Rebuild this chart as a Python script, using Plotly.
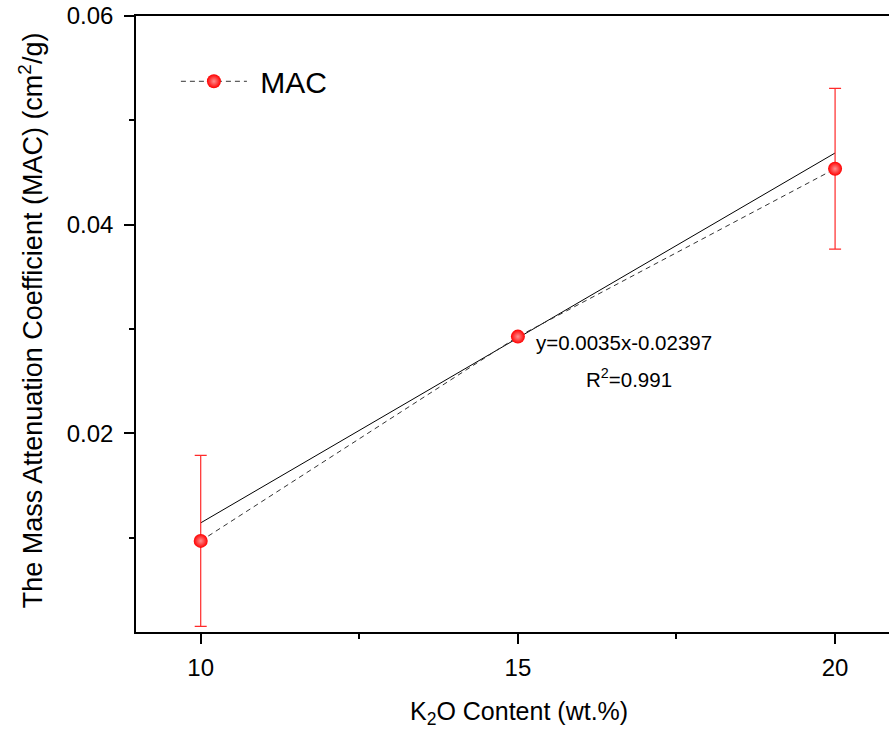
import plotly.graph_objects as go

# Data
k2o = [10, 15, 20]
mac = [0.00969, 0.02927, 0.04536]
mac_err = [0.0082, 0.0, 0.0077]
fit_x = [10, 20]
fit_y = [0.01142, 0.04687]
x_ticks = [10, 15, 20]
y_ticks = [0.02, 0.04, 0.06]
y_tick_labels = ["0.02", "0.04", "0.06"]

FONT = "Liberation Sans, Arial, sans-serif"

fig = go.Figure()

fig.add_trace(go.Scatter(
    x=fit_x, y=fit_y, mode="lines",
    line=dict(color="black", width=1), showlegend=False, hoverinfo="skip"))

fig.add_trace(go.Scatter(
    x=k2o, y=mac, mode="lines+markers", name="\u00a0MAC",
    line=dict(color="#333333", width=1, dash="5px,4px"),
    marker=dict(size=14, color="#ff0000",
                gradient=dict(type="radial", color="#ff9090"),
                line=dict(width=0)),
    error_y=dict(type="data", array=mac_err, visible=True,
                 color="#ff2a2a", thickness=1.2, width=6)))

fig.add_annotation(x=15, y=0.02927, xref="x", yref="y", xanchor="left",
                   yanchor="middle", xshift=16, yshift=-6,
                   text="y=0.0035x-0.02397", showarrow=False,
                   font=dict(family=FONT, size=20.5, color="black"))
fig.add_annotation(x=15, y=0.02927, xref="x", yref="y", xanchor="left",
                   yanchor="middle", xshift=66, yshift=-41,
                   text="R<sup>2</sup>=0.991", showarrow=False,
                   font=dict(family=FONT, size=20.5, color="black"))

fig.add_annotation(x=-0.1394, y=0.506, xref="paper", yref="paper",
                   text="The Mass Attenuation Coefficient (MAC) (cm<sup>2</sup>/g)",
                   textangle=-90, showarrow=False, xanchor="center", yanchor="middle",
                   font=dict(family=FONT, size=27, color="black"))
fig.add_annotation(x=0.5086, y=-0.131, xref="paper", yref="paper",
                   text="K<sub>2</sub>O Content (wt.%)", showarrow=False,
                   xanchor="center", yanchor="middle",
                   font=dict(family=FONT, size=25, color="black"))

fig.update_layout(
    width=889, height=729,
    margin=dict(l=136, r=0, t=16, b=97),
    paper_bgcolor="white", plot_bgcolor="white",
    font=dict(family=FONT, size=24, color="black"),
    showlegend=True,
    legend=dict(x=0.053, y=0.894, xanchor="left", yanchor="middle",
                bgcolor="rgba(0,0,0,0)", itemwidth=66,
                font=dict(family=FONT, size=30, color="black")),
    xaxis=dict(range=[8.98, 20.85], tickvals=x_ticks, ticks="outside",
               ticklen=10, tickwidth=1.5, tickcolor="black",
               showline=True, linecolor="black", linewidth=1.5, mirror=True,
               showgrid=False, zeroline=False, ticklabelstandoff=3,
               minor=dict(dtick=2.5, tick0=10, ticks="outside", ticklen=5,
                          tickwidth=1.5, tickcolor="black", showgrid=False),
               tickfont=dict(family=FONT, size=24, color="black")),
    yaxis=dict(range=[0.00096, 0.06], tickvals=y_ticks, ticktext=y_tick_labels,
               ticks="outside", ticklen=10, tickwidth=1.5, tickcolor="black",
               showline=True, linecolor="black", linewidth=1.5,
               showgrid=False, zeroline=False, ticklabelstandoff=6,
               minor=dict(tickvals=[0.01, 0.03, 0.05], ticks="outside", ticklen=5,
                          tickwidth=1.5, tickcolor="black", showgrid=False),
               tickfont=dict(family=FONT, size=24, color="black")),
)

fig.write_html("out.html", config={"displayModeBar": False},
               post_script="document.body.style.margin='0';")
